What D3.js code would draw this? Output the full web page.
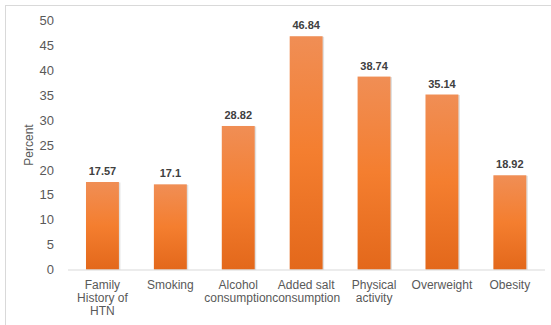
<!DOCTYPE html>
<html>
<head>
<meta charset="utf-8">
<script src="https://cdn.jsdelivr.net/npm/d3@7"></script>
<style>
  body { margin: 0; background: #fff; }
  svg { display: block; font-family: "Liberation Sans", Arial, sans-serif; }
</style>
</head>
<body>
<svg id="chart" width="551" height="325"></svg>
<script>
const categories = ["Family History of HTN", "Smoking", "Alcohol consumption", "Added salt consumption", "Physical activity", "Overweight", "Obesity"];
const labelLines = [["Family", "History of", "HTN"], ["Smoking"], ["Alcohol", "consumption"], ["Added salt", "consumption"], ["Physical", "activity"], ["Overweight"], ["Obesity"]];
const values = [17.57, 17.1, 28.82, 46.84, 38.74, 35.14, 18.92];
const yTicks = [0, 5, 10, 15, 20, 25, 30, 35, 40, 45, 50];
const yTitle = "Percent";

const svg = d3.select("#chart");

// outer frame
svg.append("rect").attr("x", 5.5).attr("y", 5.5).attr("width", 600).attr("height", 400)
  .attr("fill", "none").attr("stroke", "#d9d9d9").attr("stroke-width", 1);

const defs = svg.append("defs");
const grad = defs.append("linearGradient").attr("id", "barGrad")
  .attr("x1", 0).attr("y1", 0).attr("x2", 0).attr("y2", 1);
grad.append("stop").attr("offset", "0%").attr("stop-color", "#f08e55");
grad.append("stop").attr("offset", "50%").attr("stop-color", "#f47e2f");
grad.append("stop").attr("offset", "100%").attr("stop-color", "#e3681b");

const x = d3.scaleBand().domain(categories).range([68.5, 543.8]).paddingInner(0.515).paddingOuter(0.2575);
const y = d3.scaleLinear().domain([0, 50]).range([269.5, 20.5]);

// y tick labels
const yAxis = d3.axisLeft(y).tickValues(yTicks).tickSize(0).tickPadding(0);
const gy = svg.append("g").attr("transform", "translate(54,0)").call(yAxis);
gy.select(".domain").remove();
gy.selectAll("text").attr("font-size", 13).attr("fill", "#595959")
  .attr("font-family", "Liberation Sans, Arial, sans-serif");

// y title
svg.append("text").attr("transform", `translate(33,${(y(0) + y(50)) / 2}) rotate(-90)`)
  .attr("text-anchor", "middle").attr("font-size", 12).attr("fill", "#595959").text(yTitle);

// bars shadow
svg.append("g").selectAll("rect").data(values).join("rect")
  .attr("x", (d, i) => x(categories[i]) + 0.5)
  .attr("y", d => y(d) + 0.5)
  .attr("width", x.bandwidth() + 1)
  .attr("height", d => y(0) - y(d))
  .attr("fill", "rgba(0,0,0,0.12)");

// bars
svg.append("g").selectAll("rect").data(values).join("rect")
  .attr("x", (d, i) => x(categories[i]))
  .attr("y", d => y(d))
  .attr("width", x.bandwidth())
  .attr("height", d => y(0) - y(d))
  .attr("fill", "url(#barGrad)");

// baseline
svg.append("line").attr("x1", 68).attr("x2", 545).attr("y1", y(0) + 0.5).attr("y2", y(0) + 0.5)
  .attr("stroke", "#d9d9d9").attr("stroke-width", 1);

// value labels
svg.append("g").selectAll("text").data(values).join("text")
  .attr("x", (d, i) => x(categories[i]) + x.bandwidth() / 2)
  .attr("y", d => y(d) - 7)
  .attr("text-anchor", "middle").attr("font-size", 11).attr("font-weight", "bold")
  .attr("fill", "#404040").text(d => d);

// category labels
const xl = svg.append("g").selectAll("text").data(categories).join("text")
  .attr("text-anchor", "middle").attr("font-size", 12).attr("fill", "#595959")
  .attr("transform", d => `translate(${x(d) + x.bandwidth() / 2},289)`);
xl.selectAll("tspan").data((d, i) => labelLines[i]).join("tspan")
  .attr("x", 0).attr("dy", (d, j) => j === 0 ? 0 : 13).text(d => d);
</script>
</body>
</html>
